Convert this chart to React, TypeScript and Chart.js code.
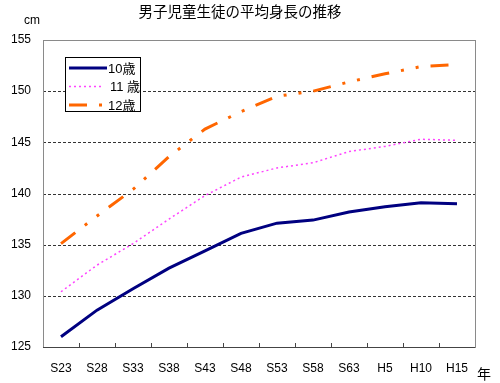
import { useEffect, useRef } from 'react';
import { Chart, registerables } from 'chart.js';

Chart.register(...registerables);

const categories = ['S23', 'S28', 'S33', 'S38', 'S43', 'S48', 'S53', 'S58', 'S63', 'H5', 'H10', 'H15'];
const age10 = [126.0, 128.6, 130.7, 132.7, 134.4, 136.1, 137.1, 137.4, 138.2, 138.7, 139.1, 139.0];
const age11 = [130.4, 133.0, 135.1, 137.5, 139.8, 141.6, 142.5, 143.0, 144.1, 144.6, 145.3, 145.2];
const age12 = [135.1, 137.8, 140.4, 143.6, 146.3, 148.0, 149.5, 150.0, 150.9, 151.7, 152.4, 152.6];
const seriesLabels = ['10歳', '11 歳', '12歳'];
const gridValues = [130, 135, 140, 145, 150];
const titleText = '男子児童生徒の平均身長の推移';
const yUnit = 'cm';
const xUnit = '年';

const FONT = '"Liberation Sans", "Noto Sans CJK JP", sans-serif';
const CJK = '"Noto Sans CJK JP", "Liberation Sans", sans-serif';

const decorPlugin = {
  id: 'decor',
  beforeDatasetsDraw(chart: any) {
    const { ctx, chartArea, scales } = chart;
    const y = scales.y;
    ctx.save();
    ctx.strokeStyle = '#333';
    ctx.lineWidth = 1;
    ctx.setLineDash([3, 2]);
    gridValues.forEach((v) => {
      const py = Math.round(y.getPixelForValue(v)) + 0.5;
      ctx.beginPath();
      ctx.moveTo(chartArea.left, py);
      ctx.lineTo(chartArea.right, py);
      ctx.stroke();
    });
    ctx.restore();
  },
  afterDraw(chart: any) {
    const { ctx, chartArea, scales } = chart;
    const x = scales.x;
    ctx.save();
    // frame
    ctx.strokeStyle = '#8a8a8a';
    ctx.lineWidth = 1;
    ctx.setLineDash([]);
    ctx.strokeRect(
      Math.round(chartArea.left) + 0.5,
      Math.round(chartArea.top) + 0.5,
      Math.round(chartArea.right - chartArea.left),
      Math.round(chartArea.bottom - chartArea.top)
    );
    // bottom axis darker
    ctx.strokeStyle = '#444';
    ctx.beginPath();
    ctx.moveTo(chartArea.left, Math.round(chartArea.bottom) + 0.5);
    ctx.lineTo(chartArea.right, Math.round(chartArea.bottom) + 0.5);
    ctx.stroke();
    // inward tick marks at category boundaries
    for (let i = 1; i < categories.length; i++) {
      const px = Math.round((x.getPixelForValue(i - 1) + x.getPixelForValue(i)) / 2) + 0.5;
      ctx.beginPath();
      ctx.moveTo(px, chartArea.bottom);
      ctx.lineTo(px, chartArea.bottom - 4);
      ctx.stroke();
    }
    // texts
    ctx.fillStyle = '#000';
    ctx.textBaseline = 'middle';
    ctx.textAlign = 'center';
    ctx.font = '14.5px ' + CJK;
    ctx.fillText(titleText, 240, 11);
    ctx.font = '12px ' + FONT;
    ctx.fillText(yUnit, 32, 21);
    ctx.font = '14px ' + CJK;
    ctx.fillText(xUnit, 484, 374);

    // legend
    const bx = 65.5, by = 57.5, bw = 75, bh = 54;
    ctx.fillStyle = '#fff';
    ctx.fillRect(bx, by, bw, bh);
    ctx.strokeStyle = '#000';
    ctx.lineWidth = 1;
    ctx.strokeRect(bx, by, bw, bh);
    const rows = [68, 86.5, 105];
    chart.data.datasets.forEach((ds: any, i: number) => {
      const ry = rows[i];
      ctx.save();
      ctx.strokeStyle = ds.borderColor;
      ctx.lineWidth = ds.borderWidth;
      ctx.setLineDash(ds.borderDash || []);
      ctx.beginPath();
      ctx.moveTo(69, ry);
      ctx.lineTo(i === 1 ? 104 : 107, ry);
      ctx.stroke();
      ctx.restore();
      ctx.fillStyle = '#000';
      ctx.textAlign = 'left';
      ctx.textBaseline = 'middle';
      ctx.font = '13px ' + FONT;
      ctx.fillText(ds.label, i === 1 ? 110 : 108, ry + 1);
    });
    ctx.restore();
  },
};

export default function App() {
  const ref = useRef<HTMLCanvasElement | null>(null);
  useEffect(() => {
    if (!ref.current) return;
    const chart = new Chart(ref.current, {
      type: 'line',
      data: {
        labels: categories,
        datasets: [
          {
            label: seriesLabels[0],
            data: age10,
            borderColor: '#000080',
            borderWidth: 3,
            pointRadius: 0,
            tension: 0,
            fill: false,
          },
          {
            label: seriesLabels[1],
            data: age11,
            borderColor: '#ff44ff',
            borderWidth: 1.5,
            borderDash: [2, 3],
            pointRadius: 0,
            tension: 0,
            fill: false,
          },
          {
            label: seriesLabels[2],
            data: age12,
            borderColor: '#ff6600',
            borderWidth: 3,
            borderDash: [18, 12, 3, 12, 3, 12],
            pointRadius: 0,
            tension: 0,
            fill: false,
          },
        ],
      },
      options: {
        responsive: false,
        animation: false,
        layout: { padding: { top: 40, right: 25, left: 0, bottom: 0 } },
        plugins: { legend: { display: false }, title: { display: false }, tooltip: { enabled: false } },
        scales: {
          x: {
            type: 'category',
            offset: true,
            grid: { display: false },
            border: { display: false },
            ticks: { color: '#000', font: { size: 12, family: FONT }, padding: 6, maxRotation: 0, autoSkip: false },
            afterFit: (s: any) => { s.height = 36; },
          },
          y: {
            min: 125,
            max: 155,
            grid: { display: false },
            border: { display: false },
            ticks: { stepSize: 5, color: '#000', font: { size: 12, family: FONT }, padding: 4 },
            afterFit: (s: any) => { s.width = 43; },
          },
        },
      },
      plugins: [decorPlugin],
    });
    return () => chart.destroy();
  }, []);
  return (
    <div style={{ position: 'absolute', left: 0, top: 0, width: 500, height: 383, background: '#fff' }}>
      <canvas ref={ref} width={500} height={383} style={{ width: 500, height: 383 }} />
    </div>
  );
}
